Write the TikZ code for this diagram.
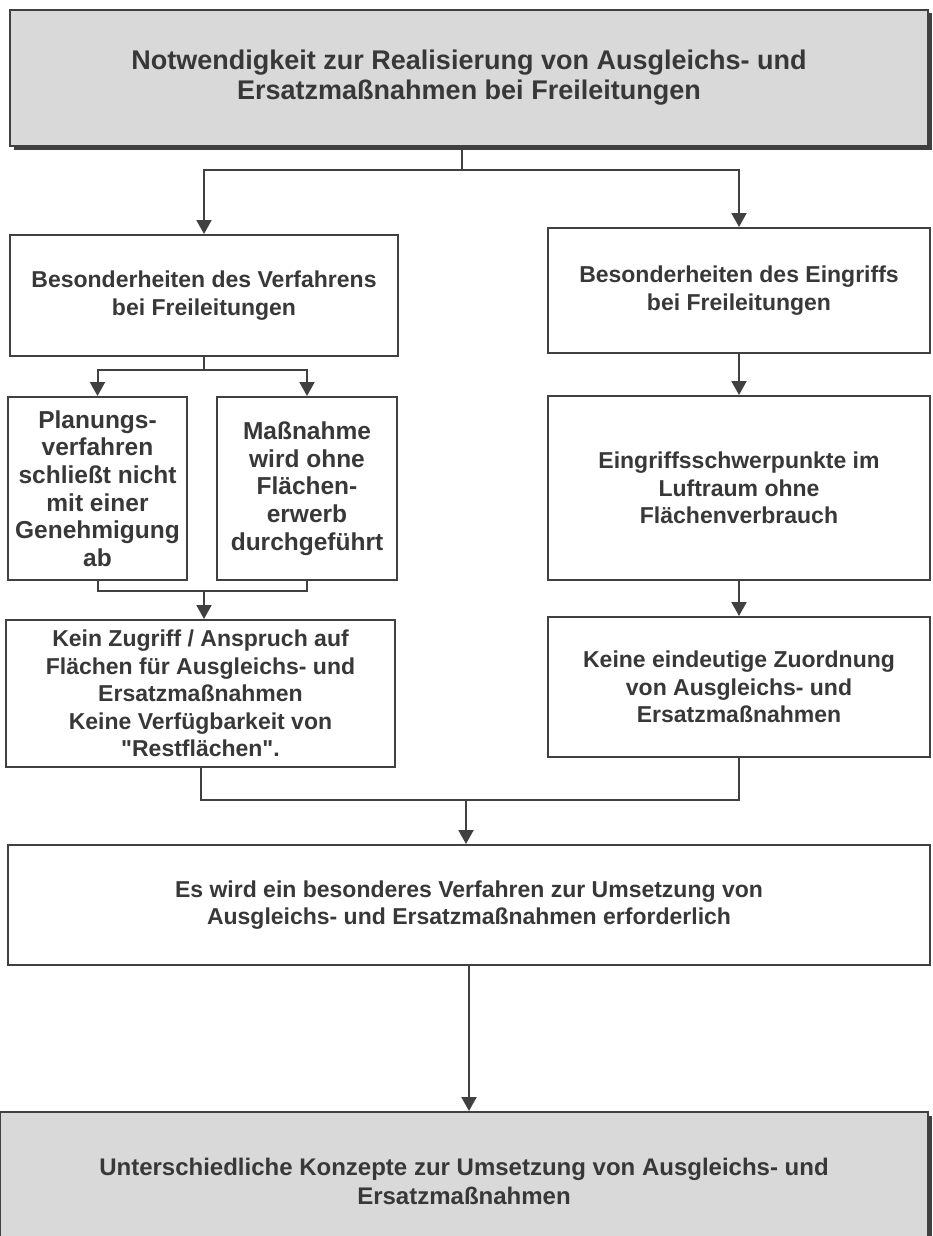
\documentclass[tikz,border=0pt]{standalone}
\usepackage{fontspec}
\setmainfont{Liberation Sans}[Ligatures=TeXOff]
\usepackage{tikz}
\usetikzlibrary{arrows.meta,shadows}
\definecolor{linegray}{HTML}{404040}
\definecolor{textgray}{HTML}{383838}

\begin{document}
\begin{tikzpicture}[x=1pt,y=-1pt,
  font=\bfseries\fontsize{23}{27.5}\selectfont,
  box/.style={rectangle, draw=linegray, line width=2pt, fill=white, text=textgray, align=center, inner sep=0pt},
  smallbox/.style={box, font=\bfseries\fontsize{24.5}{27.7}\selectfont},
  headbox/.style={box, fill=gray!30, drop shadow={shadow xshift=3.5pt, shadow yshift=-3.5pt, fill=linegray, opacity=1}},
  line/.style={draw=linegray, line width=2pt},
  arr/.style={line, -{Triangle[length=14pt,width=15pt]}}]
%
\clip (0,0) rectangle (932,1236);
\fill[white] (0,0) rectangle (932,1236);

%%% nodes and boxes

%%% TOP
\node [headbox, minimum width=918pt, minimum height=136pt, font=\bfseries\fontsize{27}{30}\selectfont] (notw) at (469,78) {Notwendigkeit zur Realisierung von Ausgleichs- und\\ Ersatzmaßnahmen bei Freileitungen};

%%% LEFT COLUMN
\node [box, minimum width=388pt, minimum height=121pt] (verf) at (204,295.5) {Besonderheiten des Verfahrens\\ bei Freileitungen};
\node [smallbox, minimum width=179pt, minimum height=183pt] (plan) at (97.5,488.5) {Planungs-\\ verfahren\\ schließt nicht\\ mit einer\\ Genehmigung\\ ab};
\node [smallbox, minimum width=180pt, minimum height=183pt] (mass) at (307,488.5) {Maßnahme\\ wird ohne\\ Flächen-\\ erwerb\\ durchgeführt};
\node [box, minimum width=389pt, minimum height=147pt] (zugriff) at (200.5,693.5) {Kein Zugriff / Anspruch auf\\ Flächen für Ausgleichs- und\\ Ersatzmaßnahmen\\ Keine Verfügbarkeit von\\ "Restflächen".};

%%% RIGHT COLUMN
\node [box, minimum width=382pt, minimum height=125pt] (eingr) at (739,290.5) {Besonderheiten des Eingriffs\\ bei Freileitungen};
\node [box, minimum width=382pt, minimum height=184pt] (schwer) at (739,488) {Eingriffsschwerpunkte im\\ Luftraum ohne\\ Flächenverbrauch};
\node [box, minimum width=382pt, minimum height=140pt] (zuord) at (739,687) {Keine eindeutige Zuordnung\\ von Ausgleichs- und\\ Ersatzmaßnahmen};

%%% BOTTOM
\node [box, minimum width=922pt, minimum height=120pt] (verfahren) at (469,905) {Es wird ein besonderes Verfahren zur Umsetzung von\\ Ausgleichs- und Ersatzmaßnahmen erforderlich};
\node [headbox, minimum width=928pt, minimum height=138pt, font=\bfseries\fontsize{24}{29}\selectfont] (konz) at (464,1181) {Unterschiedliche Konzepte zur Umsetzung von Ausgleichs- und\\ Ersatzmaßnahmen};

%%% connections, arrows

\coordinate (split1) at (462,170);
\coordinate (split2) at (204,370);
\coordinate (join1) at (204,591);
\coordinate (join2) at (466,800);

\draw [line] (notw.south -| split1) -- (split1);
\draw [arr] (split1) -| (verf.north);
\draw [arr] (split1) -| (eingr.north);

\draw [line] (verf.south) -- (split2);
\draw [arr] (split2) -| (plan.north);
\draw [arr] (split2) -| (mass.north);
\draw [line] (plan.south) |- (join1);
\draw [line] (mass.south) |- (join1);
\draw [arr] (join1) -- (zugriff.north -| join1);

\draw [arr] (eingr.south) -- (schwer.north);
\draw [arr] (schwer.south) -- (zuord.north);

\draw [line] (zugriff.south) |- (join2);
\draw [line] (zuord.south) |- (join2);
\draw [arr] (join2) -- (join2 |- verfahren.north);
\draw [arr] (verfahren.south) -- (verfahren.south |- konz.north);

\end{tikzpicture}
\end{document}
